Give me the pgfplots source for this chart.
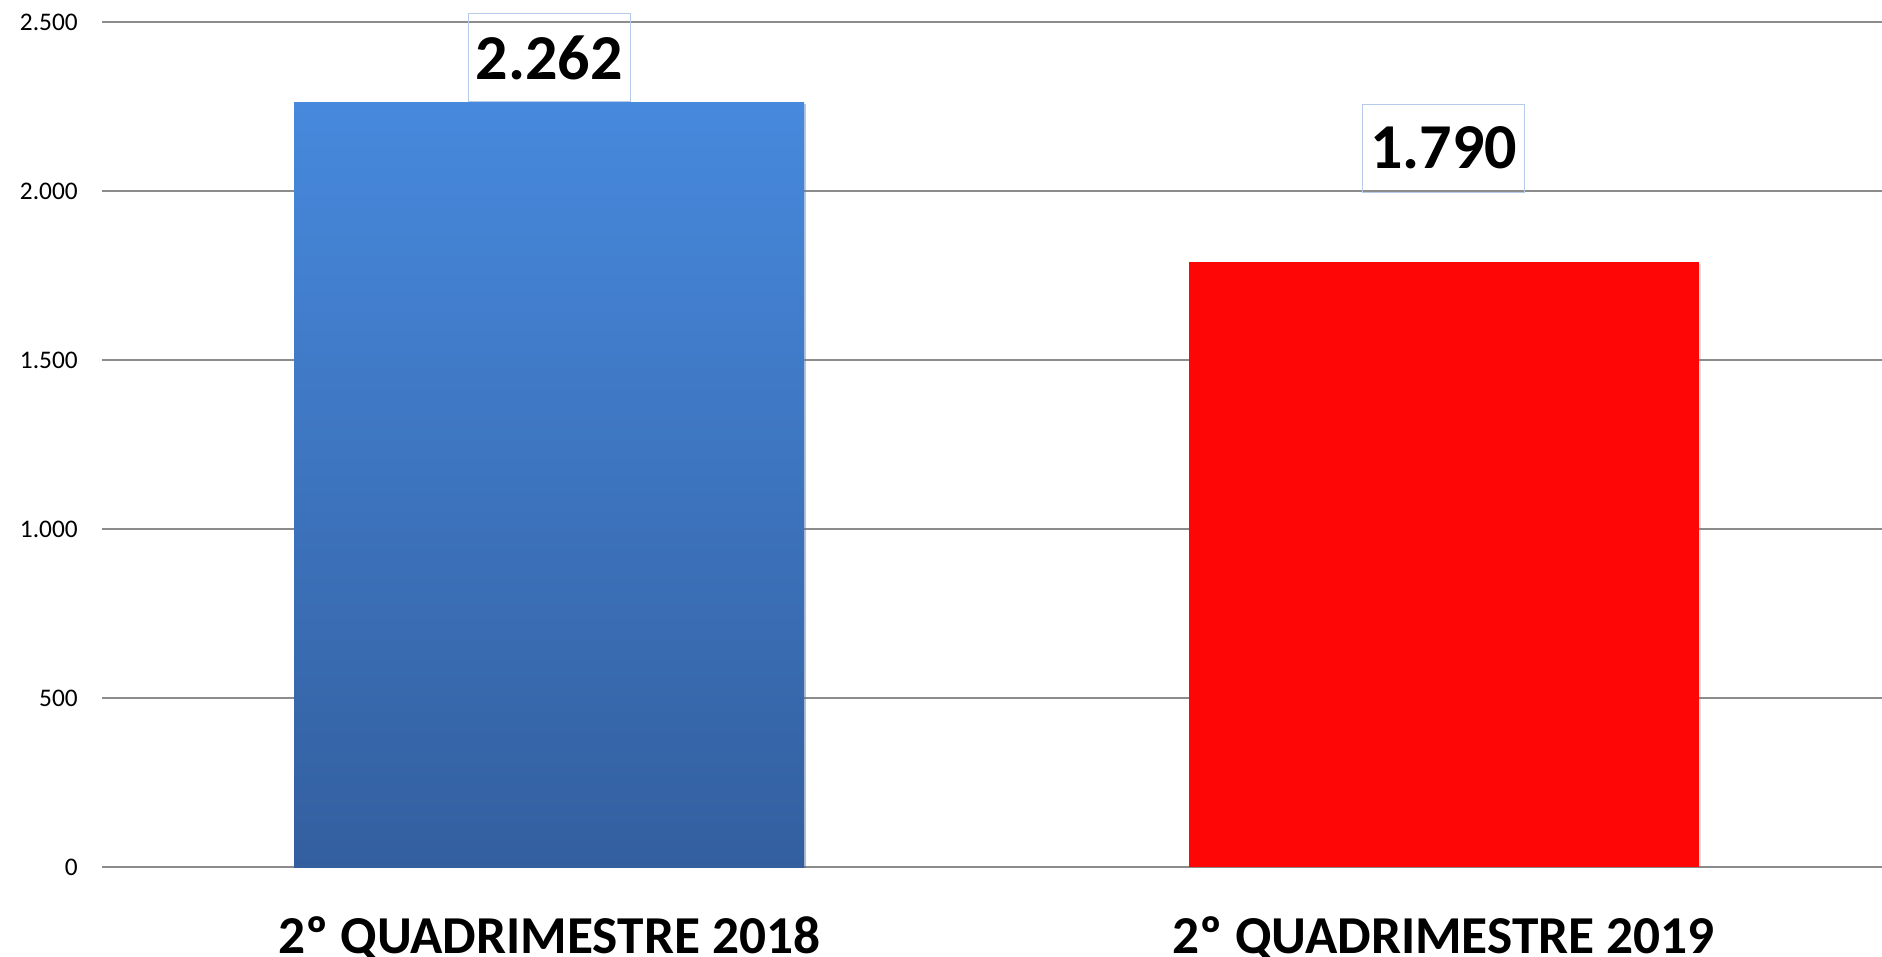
\documentclass[border=0pt]{standalone}
\usepackage{pgfplots}
\pgfplotsset{compat=1.18}
\usepackage{fontspec}
\setmainfont{Carlito}
\usetikzlibrary{shadows}

\definecolor{bluetop}{HTML}{4789DD}
\definecolor{bluebot}{HTML}{335F9F}
\definecolor{redbar}{HTML}{FF0606}
\definecolor{gridgray}{HTML}{8C8C8C}
\definecolor{boxblue}{HTML}{B7CAEA}

\begin{document}
\begin{tikzpicture}
\begin{axis}[
  at={(0pt,0pt)}, anchor=south west,
  scale only axis, width=1335pt, height=633.75pt,
  xmin=-0.5, xmax=1.49, ymin=0, ymax=2500,
  axis line style={draw=none},
  major tick length=0pt,
  ymajorgrids,
  grid style={gridgray, line width=1.1pt},
  ytick={0,500,...,2500},
  xtick={0,1},
  xticklabels={2º QUADRIMESTRE 2018, 2º QUADRIMESTRE 2019},
  xticklabel style={font=\bfseries\fontsize{40}{40}\selectfont, inner sep=0pt, anchor=north, yshift=-37pt},
  yticklabel style={font=\fontsize{19}{19}\selectfont, inner sep=0pt, anchor=east, xshift=-18pt},
  scaled y ticks=false,
  /pgf/number format/1000 sep={.},
  /pgf/number format/assume math mode=true,
  bar width=382.5pt,
  nodes near coords,
  every node near coord/.append style={
    font=\bfseries\fontsize{48}{48}\selectfont,
    draw=boxblue, line width=0.8pt,
    anchor=south, inner sep=0pt,
    minimum width=121.5pt, minimum height=66pt},
]
\addplot[ybar, bar shift=0pt, draw=none, top color=bluetop, bottom color=bluebot,
  drop shadow={shadow xshift=1.5pt, shadow yshift=-1.5pt, opacity=0.25}]
  coordinates {(0,2262)};
\addplot[ybar, bar shift=0pt, draw=none, fill=redbar,
  drop shadow={shadow xshift=1.5pt, shadow yshift=-1.5pt, opacity=0.25},
  every node near coord/.append style={yshift=52pt}]
  coordinates {(1,1790)};
\end{axis}
\pgfresetboundingbox
\useasboundingbox (-76.5pt,-67.5pt) rectangle (1335pt,650.25pt);
\end{tikzpicture}
\end{document}
